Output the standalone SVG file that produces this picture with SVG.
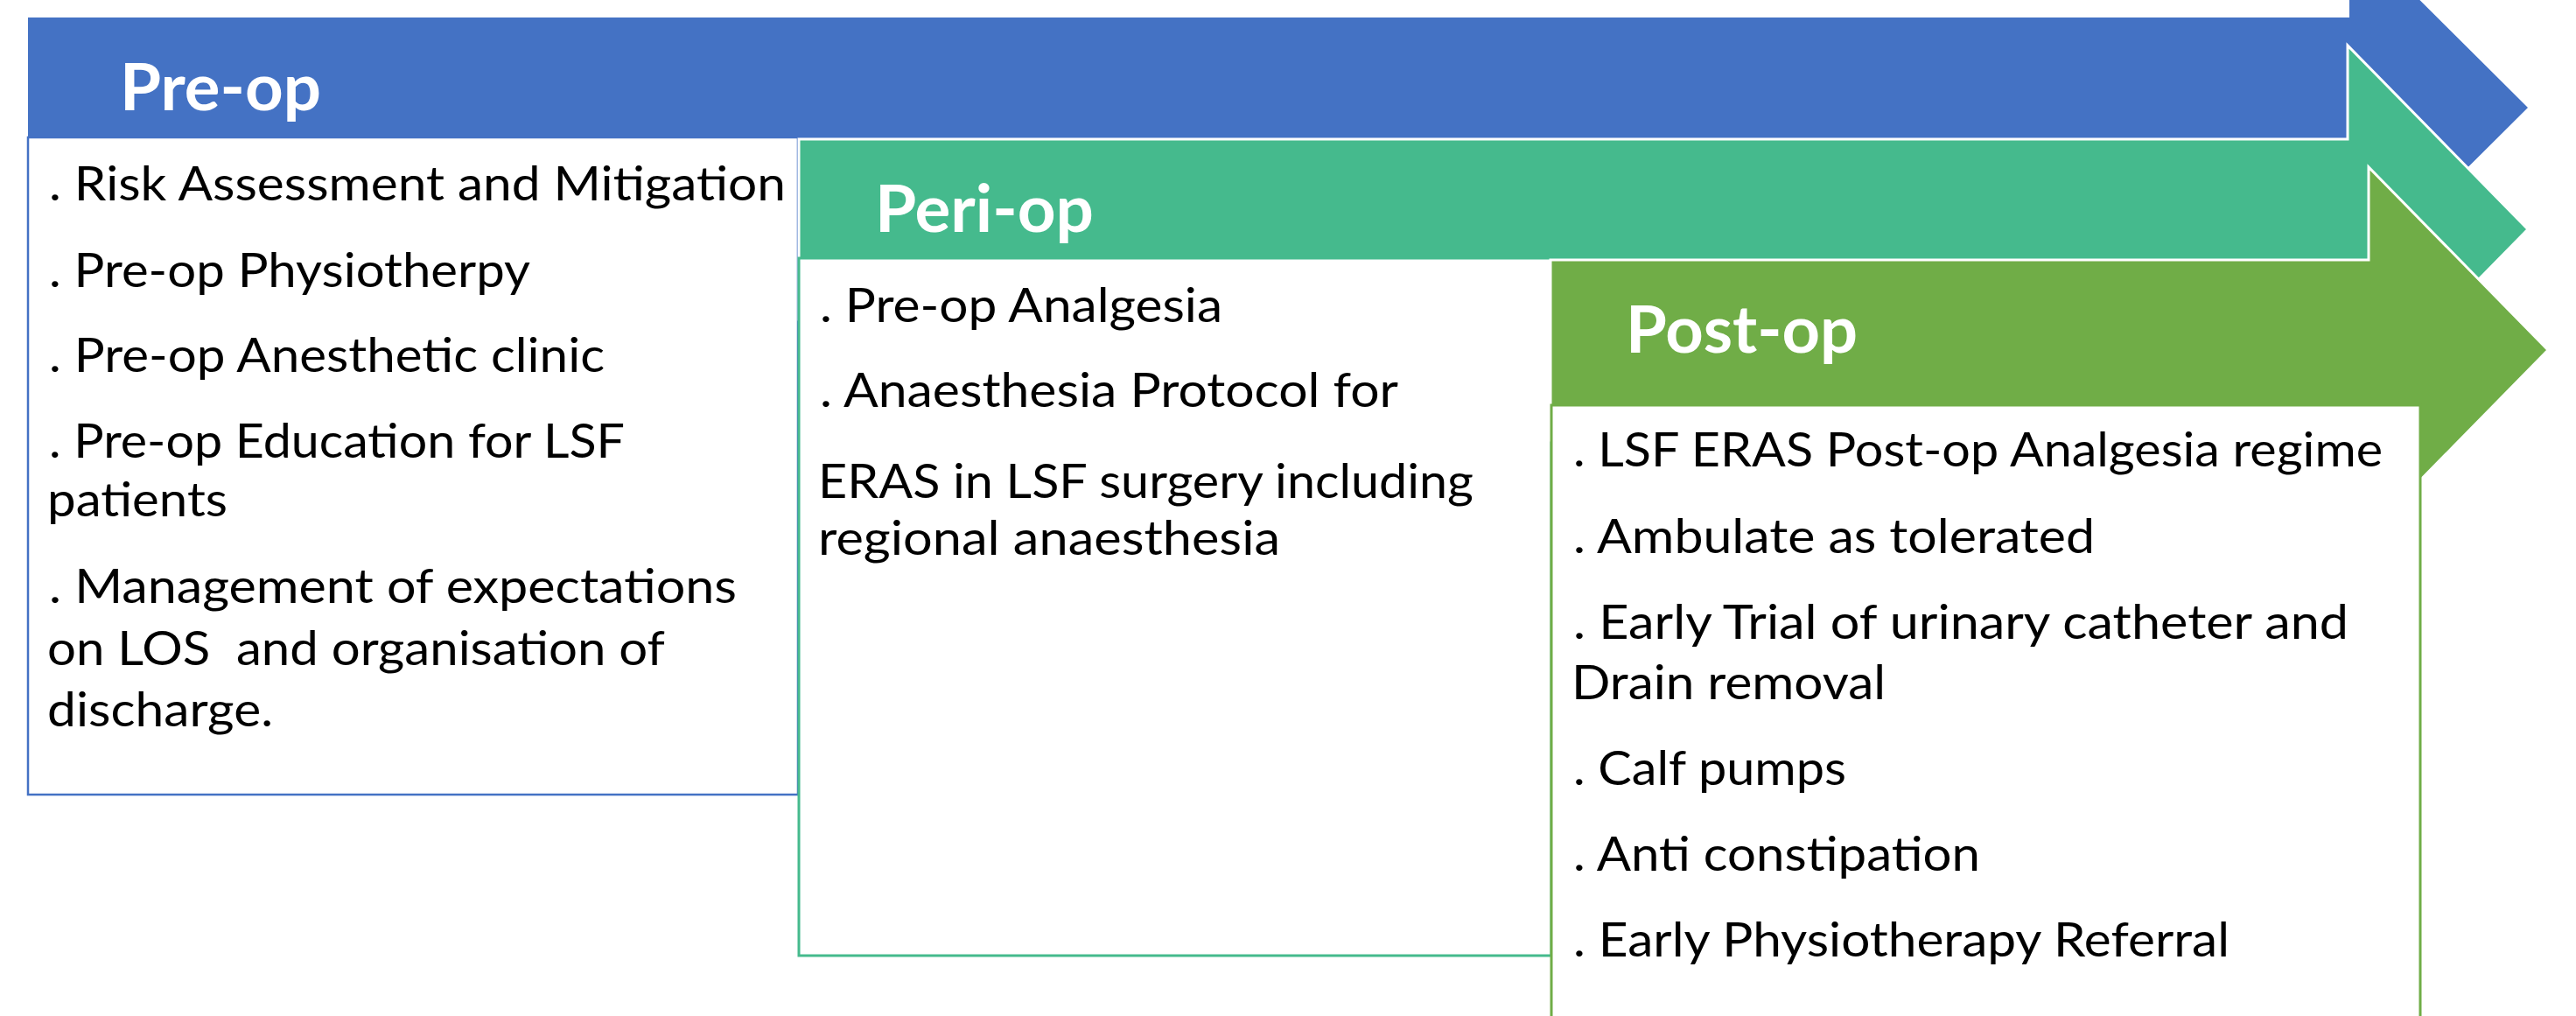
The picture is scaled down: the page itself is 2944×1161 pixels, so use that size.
<svg xmlns="http://www.w3.org/2000/svg" width="2944" height="1161" viewBox="0 0 2944 1161">
<style>
.title{font-family:Lato,"Liberation Sans",sans-serif;font-weight:700;font-size:75px;fill:#ffffff}
.body{font-family:Lato,"Liberation Sans",sans-serif;font-size:54px;fill:#000000}
.arrow{stroke:#ffffff;stroke-width:3;stroke-linejoin:miter}
.box{fill:#ffffff;stroke-width:3}
</style>
<rect width="2944" height="1161" fill="#ffffff"/>
<g id="pre-op">
<polygon class="arrow" fill="#4472C4" stroke="none" style="stroke:none" points="32,20 2685,20 2685,-80 2889,123 2685,326 2685,226 32,226"/>
<rect class="box" x="32" y="157" width="880" height="751" stroke="#4472C4" style="stroke-width:2.5"/>
<text class="title" x="137" y="126" textLength="230" lengthAdjust="spacingAndGlyphs">Pre-op</text>
<text class="body" x="56" y="229" textLength="842" lengthAdjust="spacingAndGlyphs">. Risk Assessment and Mitigation</text>
<text class="body" x="56" y="328" textLength="550" lengthAdjust="spacingAndGlyphs">. Pre-op Physiotherpy</text>
<text class="body" x="56" y="425" textLength="635" lengthAdjust="spacingAndGlyphs">. Pre-op Anesthetic clinic</text>
<text class="body" x="56" y="523" textLength="658" lengthAdjust="spacingAndGlyphs">. Pre-op Education for LSF</text>
<text class="body" x="54" y="590" textLength="206" lengthAdjust="spacingAndGlyphs">patients</text>
<text class="body" x="56" y="689" textLength="786" lengthAdjust="spacingAndGlyphs">. Management of expectations</text>
<text class="body" x="54" y="760" textLength="706" lengthAdjust="spacingAndGlyphs" xml:space="preserve">on LOS  and organisation of</text>
<text class="body" x="54" y="830" textLength="258" lengthAdjust="spacingAndGlyphs">discharge.</text>
</g>
<g id="peri-op">
<polygon class="arrow" fill="#45BA8D" points="913,159 2683,159 2683,52 2889,262 2683,472 2683,365 913,365"/>
<rect class="box" x="913" y="295" width="860" height="797" stroke="#45BA8D"/>
<text class="title" x="1000" y="265" textLength="250" lengthAdjust="spacingAndGlyphs">Peri-op</text>
<text class="body" x="937" y="368" textLength="460" lengthAdjust="spacingAndGlyphs">. Pre-op Analgesia</text>
<text class="body" x="937" y="465" textLength="661" lengthAdjust="spacingAndGlyphs">. Anaesthesia Protocol for</text>
<text class="body" x="935" y="569" textLength="749" lengthAdjust="spacingAndGlyphs">ERAS in LSF surgery including</text>
<text class="body" x="935" y="634" textLength="528" lengthAdjust="spacingAndGlyphs">regional anaesthesia</text>
</g>
<g id="post-op">
<polygon class="arrow" fill="#70AD47" points="1772,297 2707,297 2707,191 2912,400 2707,609 2707,503 1772,503"/>
<rect class="box" x="1773" y="463" width="993" height="760" stroke="#70AD47"/>
<text class="title" x="1858" y="403" textLength="265" lengthAdjust="spacingAndGlyphs">Post-op</text>
<text class="body" x="1798" y="533" textLength="925" lengthAdjust="spacingAndGlyphs">. LSF ERAS Post-op Analgesia regime</text>
<text class="body" x="1798" y="632" textLength="596" lengthAdjust="spacingAndGlyphs">. Ambulate as tolerated</text>
<text class="body" x="1798" y="730" textLength="886" lengthAdjust="spacingAndGlyphs">. Early Trial of urinary catheter and</text>
<text class="body" x="1796" y="799" textLength="359" lengthAdjust="spacingAndGlyphs">Drain removal</text>
<text class="body" x="1798" y="897" textLength="312" lengthAdjust="spacingAndGlyphs">. Calf pumps</text>
<text class="body" x="1798" y="995" textLength="465" lengthAdjust="spacingAndGlyphs">. Anti constipation</text>
<text class="body" x="1798" y="1093" textLength="750" lengthAdjust="spacingAndGlyphs">. Early Physiotherapy Referral</text>
</g>
<g id="connectors"></g>
</svg>
